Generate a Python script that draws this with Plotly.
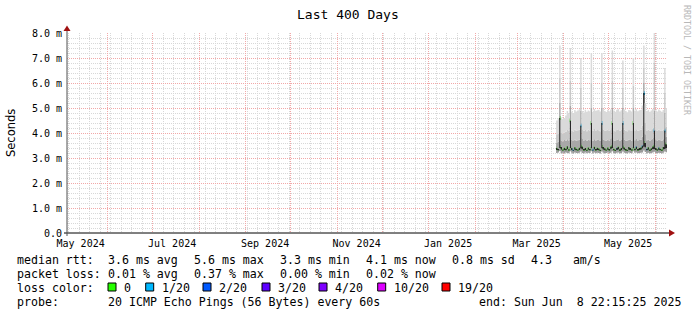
import pandas as pd
import plotly.graph_objects as go

# ---------------- data ----------------
START = "2024-05-04 22:15:25"
END = "2025-06-08 22:15:25"
FIRST_DAY = "2025-03-27"

# daily ping statistics in ms (Mar 27 .. Jun 8 2025)
ping_min = [3.20,3.22,3.28,3.19,3.21,3.18,3.22,
            3.20,3.19,3.27,3.21,3.18,3.22,3.20,
            3.19,3.21,3.26,3.20,3.18,3.22,3.19,
            3.21,3.20,3.27,3.18,3.22,3.19,3.21,
            3.20,3.18,3.26,3.21,3.19,3.20,3.22,
            3.19,3.21,3.27,3.20,3.18,3.21,3.22,
            3.18,3.20,3.26,3.21,3.19,3.18,3.22,
            3.20,3.19,3.27,3.21,3.22,3.19,3.20,
            3.21,3.22,3.30,3.24,3.19,3.21,3.18,
            3.20,3.22,3.25,3.20,3.19,3.21,3.20,
            3.18,3.21,3.26,3.23]
ping_q25 = [3.32,3.31,3.40,3.33,3.30,3.32,3.31,
            3.35,3.30,3.40,3.32,3.29,3.33,3.31,
            3.30,3.32,3.38,3.34,3.30,3.31,3.29,
            3.33,3.31,3.39,3.30,3.34,3.30,3.32,
            3.31,3.29,3.39,3.33,3.31,3.30,3.33,
            3.30,3.35,3.40,3.31,3.29,3.32,3.34,
            3.29,3.31,3.38,3.33,3.30,3.29,3.33,
            3.32,3.30,3.39,3.31,3.35,3.30,3.31,
            3.33,3.38,3.45,3.42,3.31,3.33,3.29,
            3.31,3.36,3.35,3.32,3.30,3.33,3.31,
            3.29,3.34,3.36,3.40]
median_ms = [3.40,3.36,4.60,3.44,3.34,3.41,3.37,
             3.47,3.35,4.50,3.40,3.33,3.43,3.37,
             3.34,3.41,4.30,3.46,3.36,3.40,3.33,
             3.42,3.36,4.40,3.34,3.45,3.36,3.41,
             3.38,3.33,4.40,3.44,3.39,3.34,3.42,
             3.36,3.46,4.40,3.37,3.33,3.41,3.45,
             3.35,3.40,4.40,3.42,3.36,3.33,3.44,
             3.40,3.35,4.40,3.37,3.46,3.36,3.40,
             3.42,3.50,5.60,3.60,3.37,3.43,3.34,
             3.39,3.46,4.10,3.40,3.35,3.42,3.37,
             3.34,3.44,4.10,3.55]
ping_q75 = [3.62,3.65,5.20,3.70,3.66,3.72,3.68,
            3.75,3.70,5.10,3.72,3.68,3.74,3.69,
            3.71,3.73,4.90,3.76,3.70,3.72,3.68,
            3.74,3.71,5.00,3.69,3.75,3.70,3.73,
            3.72,3.68,5.00,3.74,3.71,3.69,3.73,
            3.70,3.76,5.00,3.71,3.68,3.72,3.75,
            3.69,3.72,5.00,3.74,3.70,3.68,3.73,
            3.72,3.69,5.00,3.71,3.76,3.70,3.72,
            3.73,3.85,6.00,3.95,3.71,3.74,3.69,
            3.72,3.78,4.90,3.73,3.70,3.74,3.71,
            3.69,3.75,4.80,3.85]
ping_q90 = [3.95,3.98,6.20,4.00,3.97,4.02,4.05,
            4.12,4.08,6.10,4.10,4.06,4.14,4.09,
            4.11,4.13,5.80,4.15,4.08,4.12,4.07,
            4.13,4.10,6.00,4.09,4.16,4.10,4.12,
            4.11,4.07,6.00,4.14,4.10,4.08,4.13,
            4.09,4.15,6.10,4.11,4.07,4.12,4.15,
            4.08,4.12,5.80,4.13,4.09,4.07,4.12,
            4.11,4.08,5.90,4.10,4.15,4.09,4.11,
            4.13,4.30,6.60,4.40,4.10,4.13,4.08,
            4.11,4.18,6.80,4.12,4.09,4.13,4.10,
            4.08,4.14,5.60,4.25]
ping_max = [4.50,4.58,7.50,4.62,4.55,4.60,4.70,
            4.88,4.80,7.40,4.85,4.78,4.92,4.86,
            4.90,4.95,7.00,4.88,4.82,4.93,4.85,
            4.90,4.87,7.20,4.84,4.96,4.89,4.91,
            4.93,4.86,7.20,4.95,4.88,4.84,4.92,
            4.87,4.94,7.30,4.90,4.85,4.93,4.97,
            4.86,4.91,6.90,4.94,4.88,4.83,4.92,
            4.90,4.86,7.00,4.89,4.95,4.87,4.91,
            4.92,5.10,7.50,5.20,4.88,4.93,4.85,
            4.90,4.96,8.20,4.91,4.86,4.94,4.89,
            4.85,4.92,6.60,5.00]
# lost pings out of 20 per day
loss_cnt = [0,0,0,0,0,0,0,
            0,0,0,0,1,0,0,
            0,0,1,0,0,0,0,
            0,0,0,1,0,0,0,
            0,0,1,0,0,0,0,
            0,0,0,0,0,1,0,
            0,0,1,0,0,0,0,
            0,0,0,0,1,0,0,
            0,1,1,0,1,0,0,
            0,0,1,0,0,1,0,
            0,0,1,0]

loss_levels = [0, 1, 2, 3, 4, 10, 19]
loss_labels = ["0", "1/20", "2/20", "3/20", "4/20", "10/20", "19/20"]
loss_colors = ["#26ff00", "#00b8ff", "#0059ff", "#5e00ff", "#7e00ff", "#dd00ff", "#ff0000"]

month_ticks = ["2024-05-14", "2024-07-14", "2024-09-14", "2024-11-14",
               "2025-01-14", "2025-03-14", "2025-05-14"]
month_labels = ["May 2024", "Jul 2024", "Sep 2024", "Nov 2024",
                "Jan 2025", "Mar 2025", "May 2025"]
y_ticks = [0, 1, 2, 3, 4, 5, 6, 7, 8]
y_labels = ["0.0", "1.0 m", "2.0 m", "3.0 m", "4.0 m", "5.0 m", "6.0 m", "7.0 m", "8.0 m"]

stats_rtt = ["3.6 ms avg", "5.6 ms max", "3.3 ms min", "4.1 ms now", "0.8 ms sd", "4.3   am/s"]
stats_loss = ["0.01 % avg", "0.37 % max", "0.00 % min", "0.02 % now"]
probe_text = "20 ICMP Echo Pings (56 Bytes) every 60s"
end_text = "end: Sun Jun  8 22:15:25 2025"

n = len(median_ms)
for arr in (ping_min, ping_q25, ping_q75, ping_q90, ping_max, loss_cnt):
    assert len(arr) == n

# ---------------- geometry / style ----------------
W, H = 697, 315
L, T, PW, PH = 67, 33, 600, 200
MONO = "DejaVu Sans Mono"
MGRID = "#f2a8a8"
GRID = "#d8d8d8"
DOT = "1px,1px"


def PX(x):
    return (x - L) / PW


def PY(y):
    return (T + PH - y) / PH


days = pd.date_range(FIRST_DAY, periods=n, freq="D")
xs = list(days) + [pd.Timestamp(END)]


def step(a):
    return list(a) + [a[-1]]


fig = go.Figure()

# smoke: stacked bands
bands = [
    (ping_min, None),
    (ping_q25, "#9c9c9c"),
    (median_ms, "#282828"),
    (ping_q75, "#a8a8a8"),
    (ping_q90, "#c8c8c8"),
    (ping_max, "#dadada"),
]
for arr, col in bands:
    fig.add_trace(go.Scatter(
        x=xs, y=step(arr), mode="lines",
        line=dict(width=0, shape="hv"),
        fill=None if col is None else "tonexty",
        fillcolor=col, hoverinfo="skip", showlegend=False))


def loss_color(c):
    col = loss_colors[0]
    for lv, cc in zip(loss_levels, loss_colors):
        if c >= lv:
            col = cc
    return col


# median marks coloured by loss
fig.add_trace(go.Bar(
    x=[d + pd.Timedelta(hours=12) for d in days],
    y=[0.15] * n,
    base=[m - 0.075 for m in median_ms],
    width=86400000,
    marker=dict(color=[loss_color(c) for c in loss_cnt], line=dict(width=0)),
    hoverinfo="skip", showlegend=False))

# dummy trace for label axis
fig.add_trace(go.Scatter(x=[START], y=[None], xaxis="x2", showlegend=False, hoverinfo="skip"))

fig.update_layout(
    width=W, height=H,
    margin=dict(l=L, r=W - L - PW, t=T, b=H - T - PH),
    paper_bgcolor="white", plot_bgcolor="white",
    showlegend=False, barmode="overlay",
    xaxis=dict(
        type="date", range=[START, END],
        showgrid=True, dtick="M1", tick0="2024-06-01",
        gridcolor=MGRID, griddash=DOT, gridwidth=1,
        showticklabels=False, ticks="", showline=False, zeroline=False,
        minor=dict(dtick=7 * 86400000, tick0="2024-05-06", showgrid=True,
                   gridcolor=GRID, griddash=DOT, gridwidth=1),
    ),
    xaxis2=dict(
        type="date", range=[START, END], overlaying="x", anchor="y", side="bottom",
        tickmode="array", tickvals=month_ticks, ticktext=month_labels,
        showgrid=False, ticks="", showline=False, zeroline=False,
        tickfont=dict(family=MONO, size=10, color="#000000"),
        ticklabelstandoff=3,
    ),
    yaxis=dict(
        range=[0, 8], tickmode="array", tickvals=y_ticks, ticktext=y_labels,
        showgrid=True, gridcolor=MGRID, griddash=DOT, gridwidth=1,
        zeroline=False, showline=False, ticks="",
        tickfont=dict(family=MONO, size=10, color="#000000"),
        ticklabelstandoff=4,
        minor=dict(dtick=0.2, showgrid=True, gridcolor=GRID, griddash=DOT, gridwidth=1),
    ),
)

shapes = []
# x axis line + arrow
shapes.append(dict(type="line", xref="paper", yref="paper",
                   x0=PX(64), x1=PX(670), y0=PY(233), y1=PY(233),
                   line=dict(color="#000000", width=1)))
shapes.append(dict(type="path", xref="paper", yref="paper",
                   path=f"M {PX(669)} {PY(229.5)} L {PX(675)} {PY(233)} L {PX(669)} {PY(236.5)} Z",
                   fillcolor="#a01010", line=dict(width=0)))
# y axis line + arrow
shapes.append(dict(type="line", xref="paper", yref="paper",
                   x0=PX(67), x1=PX(67), y0=PY(236), y1=PY(29),
                   line=dict(color="#505050", width=1)))
shapes.append(dict(type="path", xref="paper", yref="paper",
                   path=f"M {PX(63.5)} {PY(31)} L {PX(67)} {PY(25.5)} L {PX(70.5)} {PY(31)} Z",
                   fillcolor="#a01010", line=dict(width=0)))

ann = []


def text(x, y, s, size=11.6, family=MONO, color="#000000", xanchor="left", angle=0):
    ann.append(dict(x=PX(x), y=PY(y), xref="paper", yref="paper", text=s,
                    showarrow=False, xanchor=xanchor, yanchor="middle",
                    textangle=angle, borderpad=0,
                    font=dict(family=family, size=size, color=color)))


text(348, 14, "Last 400 Days", size=13, xanchor="center")
text(11, 133, "Seconds", size=11.5, family="DejaVu Sans", xanchor="center", angle=-90)
text(687, 60, "RRDTOOL / TOBI OETIKER", size=8.3, color="#b8b8b8", xanchor="center", angle=90)

row_y = [259.5, 273.5, 287.5, 301.5]
text(16, row_y[0], "median rtt:")
for xp, s in zip([106.7, 193, 279, 365, 451, 530], stats_rtt):
    text(xp, row_y[0], s)
text(16, row_y[1], "packet loss:")
for xp, s in zip([106.7, 193, 279, 365], stats_loss):
    text(xp, row_y[1], s)
text(16, row_y[2], "loss color:")
box_x = [108, 145.7, 203, 262, 319, 377.7, 442]
for bx, lab, col in zip(box_x, loss_labels, loss_colors):
    shapes.append(dict(type="rect", xref="paper", yref="paper",
                       x0=PX(bx), x1=PX(bx + 8), y0=PY(291), y1=PY(283),
                       fillcolor=col, line=dict(color="#000000", width=1)))
    text(bx + 15, row_y[2], lab)
text(16, row_y[3], "probe:")
text(106.7, row_y[3], probe_text)
text(478.3, row_y[3], end_text)

fig.update_layout(shapes=shapes, annotations=ann)
fig.write_html("out.html")
